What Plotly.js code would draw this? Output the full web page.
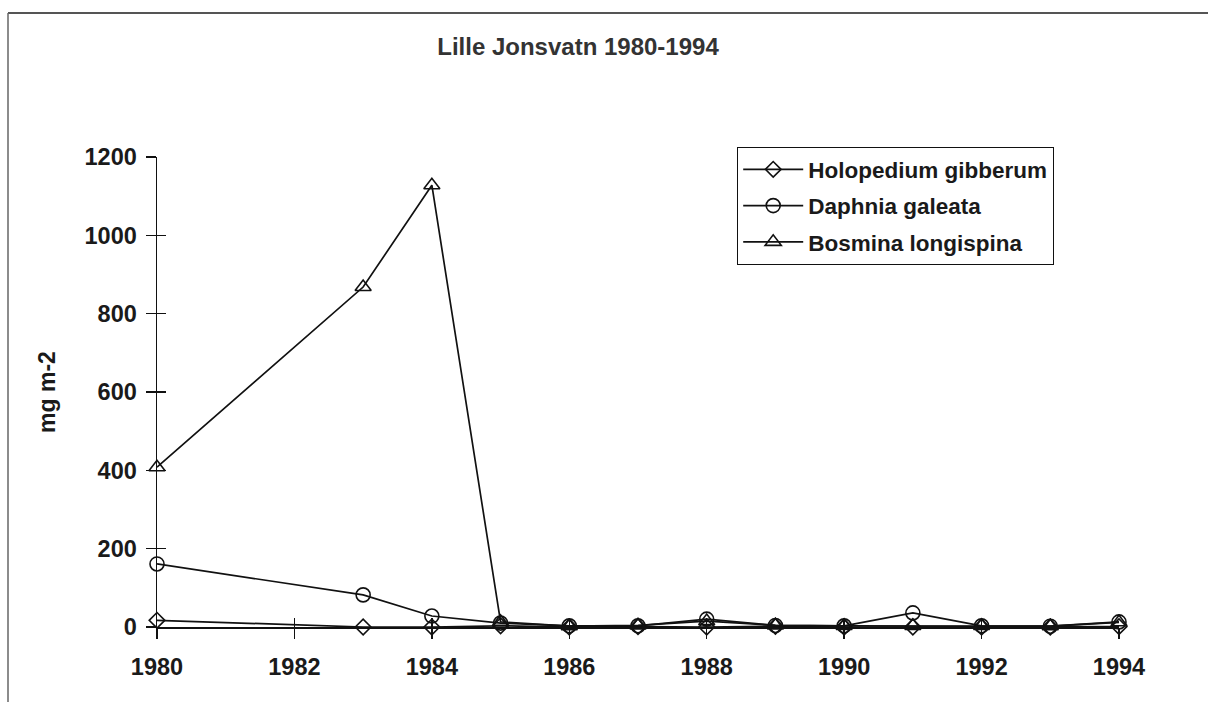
<!DOCTYPE html>
<html>
<head>
<meta charset="utf-8">
<script src="https://cdn.plot.ly/plotly-3.0.1.min.js"></script>
<style>html,body{margin:0;padding:0;background:#fff;}#chart{width:1208px;height:702px;}</style>
</head>
<body>
<div id="chart"></div>
<script>
const years = [1980, 1983, 1984, 1985, 1986, 1987, 1988, 1989, 1990, 1991, 1992, 1993, 1994];
const holopedium = [17, 0, 0, 3, 0, 1, 0, 2, 0, 0, 0, 0, 1];
const daphnia = [161, 82, 28, 10, 3, 3, 20, 4, 3, 36, 3, 2, 13];
const bosmina = [408, 868, 1128, 13, 2, 4, 15, 4, 3, 3, 3, 2, 12];
const seriesNames = ['Holopedium gibberum', 'Daphnia galeata', 'Bosmina longispina'];
const yTicks = [0, 200, 400, 600, 800, 1000, 1200];
const xTicks = [1980, 1982, 1984, 1986, 1988, 1990, 1992, 1994];

const FONT = 'Liberation Sans, Arial, sans-serif';
const L = 157, R = 89, T = 157, B = 75, W = 1208, H = 702;
const pw = W - L - R, ph = H - T - B;
const px2x = p => (p - L) / pw;
const py2y = p => (H - B - p) / ph;

function mk(name, y, symbol, size, group) {
  return {
    x: years, y: y, name: name, type: 'scatter', mode: 'lines+markers',
    line: {color: '#111', width: 1.7},
    marker: {symbol: symbol, size: size, color: '#111', line: {color: '#111', width: 1.6}},
    cliponaxis: false, legendgroup: group
  };
}
const traces = [
  mk(seriesNames[0], holopedium, 'diamond-open', 12, 'a'),
  mk(seriesNames[1], daphnia, 'circle-open', 14, 'b'),
  mk(seriesNames[2], bosmina, 'triangle-up-open', 14, 'c'),
  {x: [null], y: [null], xaxis: 'x2', yaxis: 'y2', showlegend: false, hoverinfo: 'skip', mode: 'markers'}
];

const layout = {
  width: W, height: H,
  margin: {l: L, r: R, t: T, b: B},
  paper_bgcolor: '#fff', plot_bgcolor: '#fff',
  font: {family: FONT, size: 22, color: '#1a1a1a'},
  showlegend: true,
  title: {text: '<b>Lille Jonsvatn 1980-1994</b>', x: 578 / W, xanchor: 'center', y: 1 - 47 / H, yanchor: 'middle',
    font: {family: FONT, size: 24, color: '#333'}},
  xaxis: {range: [1980, 1994], tickvals: xTicks, ticktext: xTicks.map(String), showgrid: false, zeroline: false,
    showline: true, linecolor: '#111', linewidth: 1.5, ticks: 'outside', ticklen: 10, tickwidth: 1.5, tickcolor: '#111',
    tickfont: {family: FONT, size: 23.5, color: '#1a1a1a', weight: 'bold'}, ticklabelstandoff: 8},
  yaxis: {range: [0, 1200], tickvals: yTicks, ticktext: yTicks.map(String), showgrid: false, zeroline: false,
    showline: true, linecolor: '#111', linewidth: 1.5, ticks: 'outside', ticklen: 10, tickwidth: 1.5, tickcolor: '#111',
    tickfont: {family: FONT, size: 23.5, color: '#1a1a1a', weight: 'bold'}, ticklabelstandoff: 4,
    title: {text: '<b>mg m-2</b>', font: {family: FONT, size: 23, color: '#1a1a1a'}, standoff: 22}},
  xaxis2: {overlaying: 'x', range: [1980, 1994], tickvals: xTicks, showticklabels: false, showgrid: false, zeroline: false,
    showline: false, ticks: 'inside', ticklen: 9, tickwidth: 1.5, tickcolor: '#111'},
  yaxis2: {overlaying: 'y', range: [0, 1200], tickvals: yTicks, showticklabels: false, showgrid: false, zeroline: false,
    showline: false, ticks: 'inside', ticklen: 9, tickwidth: 1.5, tickcolor: '#111'},
  legend: {x: px2x(737), y: py2y(147), xanchor: 'left', yanchor: 'top', bgcolor: '#fff', bordercolor: '#111', borderwidth: 1.2,
    font: {family: FONT, size: 22.5, color: '#1a1a1a', weight: 'bold'}, traceorder: 'grouped', tracegroupgap: 4, itemwidth: 60},
  shapes: [
    {type: 'line', xref: 'paper', yref: 'y', x0: px2x(148), x1: 0, y0: 0, y1: 0, line: {color: '#111', width: 1.5}},
    {type: 'line', xref: 'paper', yref: 'paper', x0: px2x(8), x1: px2x(1210), y0: py2y(13), y1: py2y(13), line: {color: '#555', width: 2}},
    {type: 'line', xref: 'paper', yref: 'paper', x0: px2x(8), x1: px2x(8), y0: py2y(13), y1: py2y(704), line: {color: '#666', width: 1.5}}
  ]
};
Plotly.newPlot('chart', traces, layout, {displayModeBar: false, staticPlot: true});
</script>
</body>
</html>
